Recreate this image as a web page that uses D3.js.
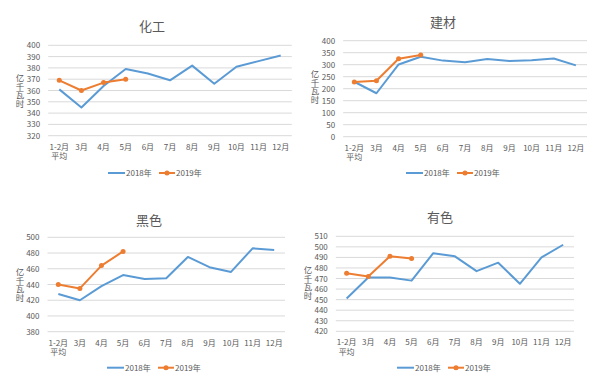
<!DOCTYPE html>
<html lang="zh">
<head>
  <meta charset="UTF-8">
  <title>分行业用电量</title>
  <style>
    body { margin: 0; background: #fff; }
    text { font-family: "Noto Sans CJK SC", "Noto Sans", sans-serif; fill: #595959; }
    .ytitle { writing-mode: vertical-rl; text-orientation: upright; }
  </style>
</head>
<body>
  <div id="chart"></div>
  <script src="https://d3js.org/d3.v7.min.js"></script>
  <script>
    // categories and values
    const months = ["1-2月", "3月", "4月", "5月", "6月", "7月", "8月", "9月", "10月", "11月", "12月"];
    const seriesNames = ["2018年", "2019年"];

    const chem2018 = [361, 345, 364, 379, 375, 369, 382, 366, 381, 386, 391];
    const chem2019 = [369, 360, 367, 370];
    const build2018 = [229, 181, 301, 333, 317, 310, 324, 315, 319, 326, 297];
    const build2019 = [228, 233, 325, 340];
    const ferrous2018 = [428, 420, 438, 452, 447, 448, 475, 462, 456, 486, 484];
    const ferrous2019 = [440, 435, 464, 482];
    const nonferrous2018 = [451, 471, 471, 468, 494, 491, 477, 485, 465, 490, 502];
    const nonferrous2019 = [475, 472, 491, 489];

    const chemTicks = d3.range(320, 401, 10);
    const buildTicks = d3.range(0, 401, 50);
    const ferrousTicks = d3.range(380, 501, 20);
    const nonferrousTicks = d3.range(420, 511, 10);

    const blue = "#5B9BD5", orange = "#ED7D31";

    const panels = [
      { title: "化工", a: chem2018, b: chem2019, ticks: chemTicks,
        x0: 48.2, x1: 291.8, y0: 135.7, y1: 45.3, tx: 152, ty: 31, yt: 20, ytc: 91, ly: 173, lx: 108 },
      { title: "建材", a: build2018, b: build2019, ticks: buildTicks,
        x0: 343.2, x1: 587, y0: 136.7, y1: 40.7, tx: 443, ty: 27, yt: 315, ytc: 87, ly: 173, lx: 406 },
      { title: "黑色", a: ferrous2018, b: ferrous2019, ticks: ferrousTicks,
        x0: 47.5, x1: 285, y0: 331.7, y1: 237.3, tx: 149, ty: 225, yt: 20, ytc: 285, ly: 367.7, lx: 107 },
      { title: "有色", a: nonferrous2018, b: nonferrous2019, ticks: nonferrousTicks,
        x0: 335.8, x1: 574, y0: 331.3, y1: 236.3, tx: 440, ty: 222, yt: 308, ytc: 283, ly: 367.7, lx: 397 }
    ];

    const svg = d3.select("#chart").append("svg")
      .attr("width", 605).attr("height", 388);

    panels.forEach(p => {
      const g = svg.append("g");
      const x = d3.scaleBand().domain(months).range([p.x0, p.x1]);
      const y = d3.scaleLinear().domain(d3.extent(p.ticks)).range([p.y0, p.y1]);
      const cx = d => x(d) + x.bandwidth() / 2;

      // gridlines
      g.selectAll(".grid").data(p.ticks).join("line")
        .attr("x1", p.x0).attr("x2", p.x1)
        .attr("y1", d => y(d)).attr("y2", d => y(d))
        .attr("stroke", "#d9d9d9").attr("stroke-width", 1);

      // y tick labels
      g.selectAll(".yl").data(p.ticks).join("text")
        .attr("x", p.x0 - 8).attr("y", d => y(d) + 3)
        .attr("text-anchor", "end").attr("font-size", 8)
        .text(d => d);

      // x labels
      const xl = g.selectAll(".xl").data(months).join("text")
        .attr("x", d => cx(d)).attr("y", p.y0 + 14)
        .attr("text-anchor", "middle").attr("font-size", 8);
      xl.append("tspan").text(d => d);
      xl.filter((d, i) => i === 0).append("tspan")
        .attr("x", d => cx(d)).attr("dy", 9.5).text("平均");

      // title
      g.append("text").attr("x", p.tx).attr("y", p.ty)
        .attr("text-anchor", "middle").attr("font-size", 13).text(p.title);

      // y axis title, upright stacked characters
      g.append("text").attr("class", "ytitle")
        .attr("x", p.yt).attr("y", p.ytc)
        .attr("text-anchor", "middle").attr("font-size", 8.5)
        .text("亿千瓦时");

      const line = d3.line().x((d, i) => cx(months[i])).y(d => y(d));

      g.append("path").datum(p.a).attr("d", line)
        .attr("fill", "none").attr("stroke", blue).attr("stroke-width", 2)
        .attr("stroke-linejoin", "round");
      g.append("path").datum(p.b).attr("d", line)
        .attr("fill", "none").attr("stroke", orange).attr("stroke-width", 2)
        .attr("stroke-linejoin", "round");
      g.selectAll(".pt").data(p.b).join("circle")
        .attr("cx", (d, i) => cx(months[i])).attr("cy", d => y(d))
        .attr("r", 2.5).attr("fill", orange);

      // legend
      const lg = g.append("g").attr("transform", `translate(${p.lx},${p.ly})`);
      lg.append("line").attr("x1", 0).attr("x2", 17).attr("stroke", blue).attr("stroke-width", 2);
      lg.append("text").attr("x", 18).attr("y", 3).attr("font-size", 8).text(seriesNames[0]);
      lg.append("line").attr("x1", 51).attr("x2", 67).attr("stroke", orange).attr("stroke-width", 2);
      lg.append("circle").attr("cx", 59).attr("cy", 0).attr("r", 2.5).attr("fill", orange);
      lg.append("text").attr("x", 68).attr("y", 3).attr("font-size", 8).text(seriesNames[1]);
    });
  </script>
</body>
</html>
